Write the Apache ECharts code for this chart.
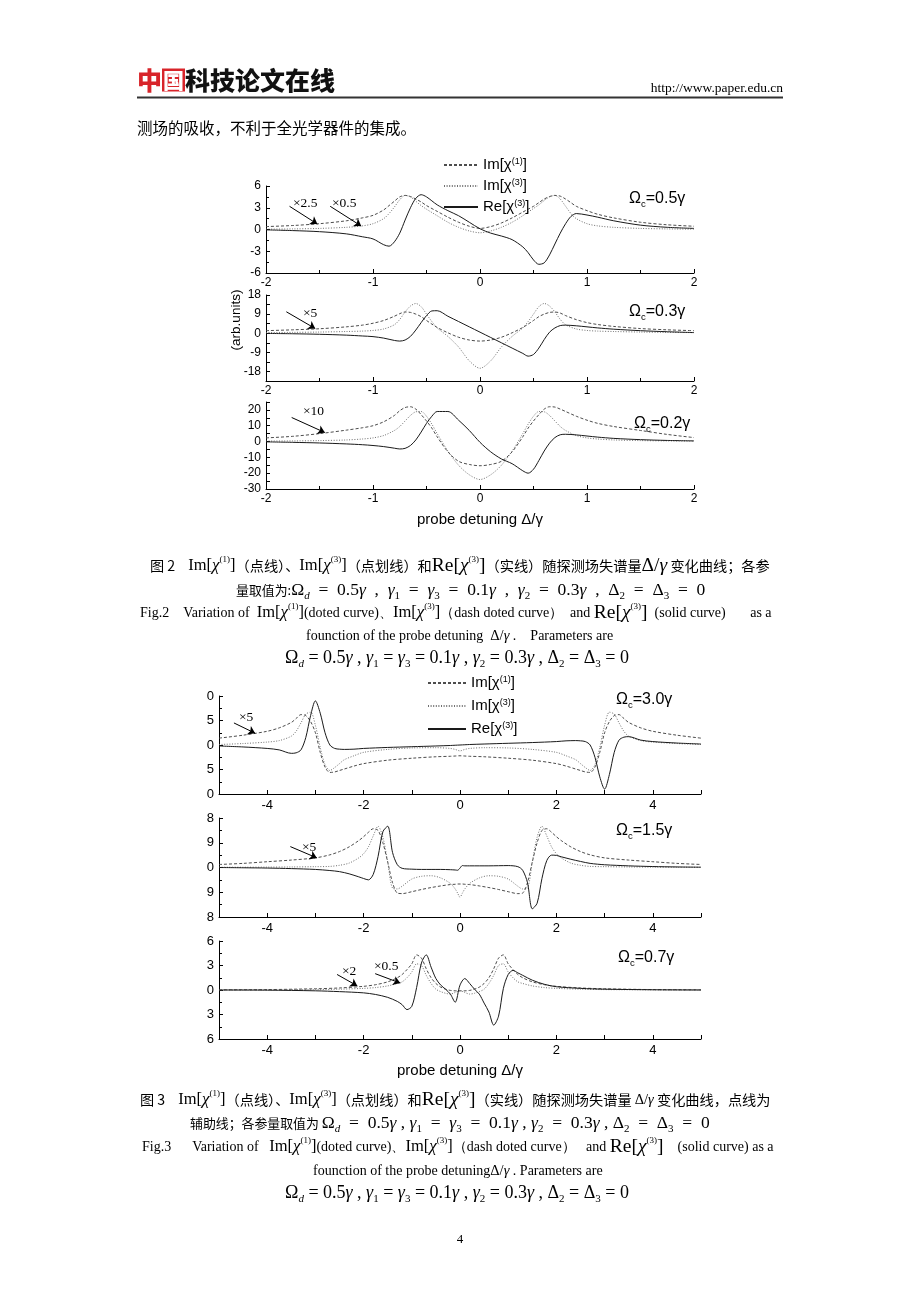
<!DOCTYPE html>
<html><head><meta charset="utf-8">
<script src="https://cdn.jsdelivr.net/npm/echarts@6/dist/echarts.min.js"></script>
<style>html,body{margin:0;padding:0;background:#fff}#c{width:920px;height:1302px}</style>
</head><body><div id="c"></div>
<script>
// ---------- Fig.2 panel 1 (Omega_c = 0.5 gamma) ----------
const F2A_X   = [-2,-1.75,-1.5,-1.25,-1.1,-1,-0.9,-0.85,-0.8,-0.75,-0.7,-0.65,-0.6,-0.55,-0.5,-0.4,-0.3,-0.2,-0.1,0,0.1,0.2,0.3,0.4,0.45,0.5,0.55,0.6,0.65,0.7,0.75,0.8,0.85,0.9,1.0,1.1,1.25,1.5,1.75,2];
const F2A_IM1 = [0.4,0.55,0.8,1.2,1.6,1.95,2.7,3.3,3.9,4.5,4.7,4.55,4.2,3.8,3.3,2.5,1.7,1.0,0.45,0.15,0.4,0.9,1.6,2.4,2.8,3.2,3.7,4.2,4.55,4.7,4.6,4.2,3.7,3.2,2.6,2.1,1.6,1.0,0.65,0.45];
const F2A_IM3 = [0.05,0.08,0.15,0.3,0.5,0.8,1.5,2.2,3.1,4.1,4.7,4.5,3.9,3.3,2.8,1.9,1.0,0.3,-0.2,-0.45,-0.2,0.3,1.0,1.9,2.4,2.9,3.4,4.0,4.5,4.7,4.2,3.2,2.2,1.5,0.8,0.5,0.3,0.15,0.08,0.05];
const F2A_RE  = [-0.05,-0.15,-0.3,-0.6,-1.0,-1.3,-2.1,-2.3,-1.7,-0.5,1.3,3.0,4.3,4.8,4.5,3.4,2.6,1.9,1.0,0.1,-0.5,-0.9,-1.4,-2.4,-3.2,-4.2,-4.8,-4.6,-3.5,-2.0,-0.5,0.8,1.8,2.2,2.0,1.7,1.2,0.6,0.3,0.15];

// ---------- Fig.2 panels 2,3 share x ----------
const F2B_X   = [-2,-1.75,-1.5,-1.25,-1.1,-1,-0.9,-0.8,-0.75,-0.7,-0.65,-0.6,-0.55,-0.5,-0.45,-0.4,-0.3,-0.2,-0.1,0,0.1,0.2,0.3,0.4,0.45,0.5,0.55,0.6,0.65,0.7,0.75,0.8,0.9,1.0,1.1,1.25,1.5,1.75,2];
const F2B_IM1 = [1.2,1.6,2.1,3.0,3.8,4.7,6.0,8.0,9.2,10,9.8,9.0,7.8,6.0,4.3,2.7,0.2,-1.9,-3.2,-3.7,-3.2,-1.9,0.2,2.7,4.3,6.0,7.8,9.0,9.8,10,9.5,8.3,6.4,5.0,4.1,3.2,2.2,1.6,1.2];
const F2B_IM3 = [0.3,0.4,0.55,0.8,1.0,1.3,2.0,4.0,6.5,10,12.8,14,12.5,9.0,5.5,2.5,-1.5,-6.5,-13,-16.5,-13,-6.5,-1.5,2.5,5.5,9.0,12.5,14,12.8,10,6.5,4.0,2.0,1.3,1.0,0.8,0.55,0.4,0.3];
const F2B_RE  = [-0.1,-0.25,-0.5,-0.9,-1.3,-1.6,-2.3,-3.4,-3.7,-3.2,-1.5,1.5,5.0,8.3,10.5,10.6,8.0,5.5,3.0,0.5,-2.0,-4.5,-7.0,-9.5,-10.8,-10.0,-7.0,-3.0,0.5,2.5,3.6,3.8,3.5,3.0,2.5,1.9,1.2,0.7,0.3];

const F2C_X   = F2B_X;
const F2C_IM1 = [2.3,3.3,5.0,7.2,8.7,10,12.5,16.5,19.5,21.5,22,20.5,17,13,8.5,3,-6.5,-12.5,-14.5,-15.3,-14.5,-12.5,-6.5,3,8.5,13,17,20.5,22,21.8,20.5,19,16,13.5,11.5,9.5,7.0,4.5,2.5];
const F2C_IM3 = [0.3,0.4,0.6,1.0,1.6,2.3,3.8,7.0,9.5,13,16.5,18.8,19,16,11,5,-6,-15,-21,-24,-21,-15,-6,5,11,16,19,18.8,16.5,13,9.5,7.0,3.8,2.3,1.6,1.0,0.6,0.4,0.3];
const F2C_RE  = [-0.2,-0.5,-0.9,-1.5,-2.0,-2.5,-3.2,-4.2,-4.7,-4.3,-2.5,1,6,11.5,16,19,19,13.5,7,-0.5,-6.5,-11,-14,-18.5,-20,-17.5,-12,-6,-1,2.5,4.3,4.6,4.2,3.5,2.8,2.0,1.2,0.7,0.4];

// ---------- Fig.3 panel 1 (Omega_c = 3.0 gamma) ----------
const F3A_X   = [-5,-4.5,-4,-3.75,-3.5,-3.4,-3.3,-3.2,-3.1,-3,-2.9,-2.8,-2.7,-2.6,-2.5,-2.4,-2.2,-2,-1.5,-1,-0.5,-0.2,-0.1,0,0.1,0.2,0.5,1,1.5,2,2.2,2.4,2.5,2.6,2.7,2.8,2.9,3,3.1,3.2,3.3,3.4,3.5,3.75,4,4.5,5];
const F3A_IM1 = [1.4,2.0,2.8,3.5,4.6,5.4,6.2,6.0,4.8,2.5,-1.5,-4.5,-5.6,-5.5,-5.2,-4.9,-4.3,-3.8,-3.1,-2.7,-2.4,-2.3,-2.25,-2.2,-2.25,-2.3,-2.4,-2.7,-3.1,-3.8,-4.3,-4.9,-5.2,-5.5,-5.6,-4.5,-1.5,2.5,4.8,6.0,6.2,5.4,4.6,3.5,2.8,2.0,1.4];
const F3A_IM3 = [0.1,0.3,0.6,0.9,1.8,2.8,4.5,6.3,6.7,4.0,-0.5,-4.0,-5.2,-4.6,-3.8,-3.0,-2.2,-1.5,-0.9,-0.6,-0.55,-0.7,-0.9,-1.2,-0.9,-0.7,-0.55,-0.6,-0.9,-1.5,-2.2,-3.0,-3.8,-4.6,-5.2,-4.0,-0.5,4.0,6.7,6.3,4.5,2.8,1.8,0.9,0.6,0.3,0.1];
const F3A_RE  = [-0.2,-0.4,-0.7,-1.0,-1.7,-1.6,-1.0,1.5,6.0,9.0,6.5,2.5,0.0,-0.7,-0.85,-0.9,-0.85,-0.7,-0.5,-0.35,-0.2,-0.1,-0.05,0,0.05,0.1,0.2,0.35,0.5,0.7,0.85,0.9,0.85,0.7,0.0,-2.5,-6.5,-9.0,-6.0,-1.5,1.0,1.6,1.7,1.0,0.7,0.4,0.2];

// ---------- Fig.3 panel 2 (Omega_c = 1.5 gamma) ----------
const F3B_X   = [-5,-4.5,-4,-3.5,-3,-2.7,-2.5,-2.3,-2.1,-2,-1.9,-1.8,-1.7,-1.6,-1.5,-1.4,-1.3,-1.2,-1.0,-0.8,-0.6,-0.4,-0.2,-0.1,-0.05,0,0.05,0.1,0.2,0.4,0.6,0.8,1.0,1.2,1.3,1.4,1.5,1.6,1.7,1.8,1.9,2,2.1,2.3,2.5,2.7,3,3.5,4,4.5,5];
const F3B_IM1 = [1.1,1.5,2.1,2.7,3.5,4.6,5.8,7.5,9.8,11.2,12.8,14.1,13.5,9.0,2.0,-5.5,-9.3,-9.5,-8.8,-8.0,-7.3,-6.7,-6.2,-6.1,-6.0,-6.0,-6.0,-6.1,-6.2,-6.7,-7.3,-8.0,-8.8,-9.5,-9.3,-5.5,2.0,9.0,13.5,14.1,12.8,11.2,9.8,7.5,5.8,4.6,3.5,2.7,2.1,1.5,1.1];
const F3B_IM3 = [0.1,0.1,0.15,0.2,0.3,0.4,0.8,1.6,3.5,5.0,7.5,11.5,15,11,2,-7.5,-7.8,-6.8,-4.2,-3.2,-3.0,-3.8,-5.8,-7.8,-9.3,-10.8,-9.3,-7.8,-5.8,-3.8,-3.0,-3.2,-4.2,-6.8,-7.8,-7.5,2,11,15,11.5,7.5,5.0,3.5,1.6,0.8,0.4,0.3,0.2,0.15,0.1,0.1];
const F3B_RE  = [0,-0.1,-0.2,-0.4,-0.7,-1.1,-1.5,-2.3,-3.4,-4.0,-4.5,-2.5,4.0,13,15,5.5,1.0,-0.3,-0.6,-0.7,-0.7,-0.7,-0.8,-0.9,-1.0,-0.2,0.7,0.6,0.6,0.6,0.6,0.65,0.7,0.3,-1.0,-5.5,-15,-13,-4.0,2.5,4.5,4.4,3.9,3.0,2.2,1.5,1.0,0.6,0.35,0.2,0.1];

// ---------- Fig.3 panel 3 (Omega_c = 0.7 gamma) ----------
const F3C_X   = [-5,-4,-3,-2.5,-2,-1.75,-1.5,-1.3,-1.2,-1.1,-1.0,-0.9,-0.8,-0.7,-0.6,-0.5,-0.4,-0.3,-0.2,-0.1,0,0.1,0.2,0.3,0.4,0.5,0.6,0.7,0.8,0.9,1.0,1.1,1.2,1.3,1.5,1.75,2,2.5,3,4,5];
const F3C_IM1 = [0.02,0.05,0.15,0.25,0.45,0.65,1.0,1.5,1.9,2.5,3.2,4.3,3.9,2.6,1.5,0.8,0.35,0.1,-0.05,-0.1,-0.1,-0.1,-0.05,0.1,0.35,0.8,1.5,2.6,3.9,4.3,3.2,2.5,1.9,1.5,1.0,0.65,0.45,0.25,0.15,0.05,0.02];
const F3C_IM3 = [0.0,0.02,0.05,0.1,0.2,0.3,0.5,0.8,1.0,1.5,2.2,3.2,3.0,1.8,0.8,0.1,-0.2,-0.4,-0.5,-0.3,-0.1,-0.3,-0.5,-0.4,-0.2,0.1,0.8,1.8,3.0,3.2,2.2,1.5,1.0,0.8,0.5,0.3,0.2,0.1,0.05,0.02,0.0];
const F3C_RE  = [0,-0.02,-0.1,-0.2,-0.35,-0.55,-0.9,-1.4,-1.8,-2.4,-2.0,0.3,3.3,4.3,2.8,1.4,0.6,0.1,-0.5,-1.5,0.6,1.4,0.8,0.1,-0.5,-1.6,-2.7,-4.3,-3.2,0.2,1.9,2.4,2.1,1.8,1.2,0.7,0.4,0.2,0.1,0.03,0];

// annotation arrows [x1,y1,x2,y2] in data units
const ARR_F2A = [[-1.78,3.2,-1.52,0.75],[-1.40,3.2,-1.11,0.48]];
const ARR_F2B = [[-1.81,10.1,-1.54,2.2]];
const ARR_F2C = [[-1.76,15.2,-1.45,5.7]];
const ARR_F3A = [[-4.69,4.5,-4.25,2.4]];
const ARR_F3B = [[-3.52,7.6,-2.97,3.5]];
const ARR_F3C = [[-2.55,1.9,-2.13,0.5],[-1.76,2.0,-1.24,0.85]];

// axis tick settings (labelStep = spacing of printed labels)
const F2A_Y = {min:-6, max:6, step:3, labelStep:3, labelMax:6};
const F2B_Y = {min:-22.5, max:18, step:4.5, labelStep:9, labelMax:18};
const F2C_Y = {min:-30, max:25, step:5, labelStep:10, labelMax:20};
const F3A_Y = {min:-10, max:10, step:5, labelStep:5, labelMax:10};
const F3B_Y = {min:-18, max:18, step:9, labelStep:9, labelMax:18};
const F3C_Y = {min:-6, max:6, step:3, labelStep:3, labelMax:6};

const SANS = 'Liberation Sans';
const SERIF = 'Liberation Serif';
const CJK = 'Noto Sans CJK SC';

const S_IM1 = {color:'#4d4d4d', width:1, type:[3,2]};
const S_IM3 = {color:'#707070', width:1, type:[1,1.6]};
const S_RE  = {color:'#1a1a1a', width:1, type:'solid'};

const grids = [
  {left:266, width:428, top:186, height:87},
  {left:266, width:428, top:295, height:86},
  {left:266, width:428, top:402, height:87},
  {left:219, width:482, top:696, height:98},
  {left:219, width:482, top:818, height:99},
  {left:219, width:482, top:941, height:98}
];

const axLine = {show:true, onZero:false, lineStyle:{color:'#000', width:1}};
const labStyle = (fs, m) => ({color:'#000', fontFamily:SANS, fontSize:fs, margin:m});

function xAx(i, fig2, nameShow){
  const a = {
    type:'value', gridIndex:i, axisLine:axLine,
    splitLine:{show:false},
    axisTick:{show:true, inside:true, length:4, lineStyle:{color:'#000'}},
  };
  if (fig2){
    Object.assign(a,{min:-2,max:2,interval:1,
      minorTick:{show:true, splitNumber:2, length:3, lineStyle:{color:'#000'}},
      axisLabel:Object.assign(labStyle(12,4),{formatter:v=>String(v)})});
  } else {
    Object.assign(a,{min:-5,max:5,interval:1,
      axisLabel:Object.assign(labStyle(13,5),{formatter:v=>(v%2===0?String(v):'')})});
  }
  if (nameShow){
    Object.assign(a,{name:'probe detuning Δ/γ', nameLocation:'middle', nameGap:fig2?23:24,
      nameTextStyle:{fontFamily:SANS, fontSize:15, color:'#000'}});
  }
  return a;
}
function yAx(i, Y, fs, trunc, minor){
  const fmt = v => {
    if (v > Y.labelMax + 1e-9) return '';
    const r = v / Y.labelStep;
    if (Math.abs(r - Math.round(r)) > 1e-6) return '';
    return trunc ? String(Math.abs(v)).slice(-1) : String(v);
  };
  return {
    type:'value', gridIndex:i, min:Y.min, max:Y.max, interval:Y.step,
    axisLine:axLine, splitLine:{show:false},
    axisTick:{show:true, inside:true, length:4, lineStyle:{color:'#000'}},
    minorTick:{show:minor, splitNumber:2, length:3, lineStyle:{color:'#000'}},
    axisLabel:Object.assign(labStyle(fs,5),{formatter:fmt})
  };
}

const xAxis = [xAx(0,true,false), xAx(1,true,false), xAx(2,true,true),
               xAx(3,false,false), xAx(4,false,false), xAx(5,false,true)];
const yAxis = [
  yAx(0,F2A_Y,12,false,true),
  yAx(1,F2B_Y,12,false,false),
  yAx(2,F2C_Y,12,false,false),
  yAx(3,F3A_Y,13,true,true),
  yAx(4,F3B_Y,13,true,true),
  yAx(5,F3C_Y,13,true,true)
];

function arrows(list){
  return {silent:true, symbol:['none','arrow'], symbolSize:7, animation:false,
    lineStyle:{color:'#000', width:1, type:'solid'}, label:{show:false},
    data:list.map(a=>[{coord:[a[0],a[1]]},{coord:[a[2],a[3]]}])};
}
function line(name, xs, ys, gi, st, mk){
  const s = {type:'line', name, xAxisIndex:gi, yAxisIndex:gi, symbol:'none', smooth:0.3,
    data:xs.map((x,k)=>[x,ys[k]]), lineStyle:st, itemStyle:{color:st.color}, z:2};
  if (mk) s.markLine = arrows(mk);
  return s;
}
const series = [
  line('Im1',F2A_X,F2A_IM1,0,S_IM1), line('Im3',F2A_X,F2A_IM3,0,S_IM3), line('Re',F2A_X,F2A_RE,0,S_RE,ARR_F2A),
  line('Im1',F2B_X,F2B_IM1,1,S_IM1), line('Im3',F2B_X,F2B_IM3,1,S_IM3), line('Re',F2B_X,F2B_RE,1,S_RE,ARR_F2B),
  line('Im1',F2C_X,F2C_IM1,2,S_IM1), line('Im3',F2C_X,F2C_IM3,2,S_IM3), line('Re',F2C_X,F2C_RE,2,S_RE,ARR_F2C),
  line('Im1',F3A_X,F3A_IM1,3,S_IM1), line('Im3',F3A_X,F3A_IM3,3,S_IM3), line('Re',F3A_X,F3A_RE,3,S_RE,ARR_F3A),
  line('Im1',F3B_X,F3B_IM1,4,S_IM1), line('Im3',F3B_X,F3B_IM3,4,S_IM3), line('Re',F3B_X,F3B_RE,4,S_RE,ARR_F3B),
  line('Im1',F3C_X,F3C_IM1,5,S_IM1), line('Im3',F3C_X,F3C_IM3,5,S_IM3), line('Re',F3C_X,F3C_RE,5,S_RE,ARR_F3C)
];

const LEG_NAMES = {Im1:'Im[χ{s|(1)}]', Im3:'Im[χ{s|(3)}]', Re:'Re[χ{s|(3)}]'};
function legend(left, top, w, gap){
  return {orient:'vertical', left, top, itemWidth:w, itemHeight:14, itemGap:gap,
    selectedMode:false, data:['Im1','Im3','Re'], formatter:n=>LEG_NAMES[n],
    itemStyle:{opacity:0, color:'rgba(0,0,0,0)', borderWidth:0},
    textStyle:{fontFamily:SANS, fontSize:15, color:'#000', lineHeight:15,
      rich:{s:{fontFamily:SANS, fontSize:9, lineHeight:9, verticalAlign:'top', color:'#000'}}}};
}

// ---------- text helpers ----------
function T(x, y, text, rich, opts){
  opts = opts || {};
  const st = Object.assign({text, x:0, y:0, rich, fill:'#000',
    align:opts.align||'left', textAlign:opts.align||'left',
    verticalAlign:'middle', textVerticalAlign:'middle'}, opts.style||{});
  return {type:'text', x, y, rotation:opts.rot||0, silent:true, style:st, z:100};
}
const tok = (ff, fs, extra) => Object.assign({fontFamily:ff, fontSize:fs, fill:'#000', color:'#000'}, extra||{});
const R_OM = {t:tok(SANS,16,{lineHeight:20}), c:tok(SANS,9.5,{lineHeight:9, verticalAlign:'bottom'})};
const R_MUL = {t:tok(SERIF,13.5)};
const R_CAP = {
  cn: tok(CJK,14.2,{lineHeight:22}),
  cs: tok(CJK,12.9,{lineHeight:22}),
  sp: tok(SERIF,13),
  en: tok(SERIF,14,{lineHeight:22}),
  tm: tok(SERIF,16.5,{lineHeight:22}),
  ti: tok(SERIF,17,{fontStyle:'italic', lineHeight:22}),
  tr: tok(SERIF,19.5,{lineHeight:22}),
  tri: tok(SERIF,19.5,{fontStyle:'italic', lineHeight:22}),
  su: tok(SERIF,9,{lineHeight:9, verticalAlign:'top'}),
  es: tok(SERIF,14.5,{lineHeight:22}),
  esi: tok(SERIF,14.5,{fontStyle:'italic', lineHeight:22}),
  m: tok(SERIF,18,{lineHeight:24}),
  mi: tok(SERIF,18,{fontStyle:'italic', lineHeight:24}),
  ms: tok(SERIF,11,{lineHeight:11, verticalAlign:'bottom'}),
  msi: tok(SERIF,11,{fontStyle:'italic', lineHeight:11, verticalAlign:'bottom'}),
  w: tok(SERIF,17.5,{lineHeight:24}),
  wi: tok(SERIF,17.5,{fontStyle:'italic', lineHeight:24}),
  ws: tok(SERIF,11,{lineHeight:11, verticalAlign:'bottom'}),
  wsi: tok(SERIF,11,{fontStyle:'italic', lineHeight:11, verticalAlign:'bottom'})
};
// math line builder: k = token prefix, e = spacing around '=', c = spacing around ','
function mathLine(k, e, c){
  const N = k, I = k === 'm' ? 'mi' : 'wi', S = k === 'm' ? 'ms' : 'ws', SI = k === 'm' ? 'msi' : 'wsi';
  const eq = e + '=' + e, cm = c + ',' + c;
  return `{${N}|Ω}{${SI}|d}{${N}|${eq}0.5}{${I}|γ}{${N}|${cm}}{${I}|γ}{${S}|1}{${N}|${eq}}{${I}|γ}{${S}|3}{${N}|${eq}0.1}{${I}|γ}{${N}|${cm}}{${I}|γ}{${S}|2}{${N}|${eq}0.3}{${I}|γ}{${N}|${cm}Δ}{${S}|2}{${N}|${eq}Δ}{${S}|3}{${N}|${eq}0}`;
}
const MATH  = mathLine('m',' ',' ');
const MATHW = mathLine('w','  ','  ');
const MATHM = mathLine('w','  ',' ');
const IM1 = '{tm|Im[}{ti|χ}{su|(1)}{tm|]}', IM3 = '{tm|Im[}{ti|χ}{su|(3)}{tm|]}', RE3 = '{tr|Re[}{tri|χ}{su|(3)}{tr|]}';

const graphic = [
  // header
  T(137, 80, '{r|中}{b|国}{k|科技论文在线}', {
    r: tok(CJK,25,{fontWeight:900, fill:'#d8242a', color:'#d8242a'}),
    b: tok(CJK,21,{fontWeight:900, fill:'#fff', color:'#fff', backgroundColor:'#d8242a', padding:[1,1,1,1]}),
    k: tok(CJK,25,{fontWeight:900, fill:'#111', color:'#111'})}),
  T(783, 88, '{u|http://www.paper.edu.cn}', {u:tok(SERIF,13.5)}, {align:'right'}),
  {type:'line', shape:{x1:137, y1:97.5, x2:783, y2:97.5}, style:{stroke:'#333', lineWidth:2}, silent:true},
  T(137, 128, '{t|测场的吸收，不利于全光学器件的集成。}', {t:tok(CJK,15.5)}),
  // Fig.2 texts
  T(236, 320, '{t|(arb.units)}', {t:tok(SANS,13.5)}, {align:'center', rot:Math.PI/2}),
  T(629, 199, '{t|Ω}{c|c}{t|=0.5γ}', R_OM),
  T(629, 312, '{t|Ω}{c|c}{t|=0.3γ}', R_OM),
  T(634, 424, '{t|Ω}{c|c}{t|=0.2γ}', R_OM),
  T(293, 203, '{t|×2.5}', R_MUL),
  T(332, 203, '{t|×0.5}', R_MUL),
  T(303, 313, '{t|×5}', R_MUL),
  T(303, 411, '{t|×10}', R_MUL),
  // Fig.3 texts
  T(616, 700, '{t|Ω}{c|c}{t|=3.0γ}', R_OM),
  T(616, 831, '{t|Ω}{c|c}{t|=1.5γ}', R_OM),
  T(618, 958, '{t|Ω}{c|c}{t|=0.7γ}', R_OM),
  T(239, 717, '{t|×5}', R_MUL),
  T(302, 847, '{t|×5}', R_MUL),
  T(342, 971, '{t|×2}', R_MUL),
  T(374, 966, '{t|×0.5}', R_MUL),
  // Fig.2 caption
  T(150, 566, '{cn|图 2}{sp|    }' + IM1 + '{cn|（点线）、}' + IM3 + '{cn|（点划线）和}' + RE3 + '{cn|（实线）随探测场失谱量}{tr|Δ/}{tri|γ}{cn| 变化曲线；各参}', R_CAP),
  T(236, 590, '{cs|量取值为:}' + MATHW, R_CAP),
  T(140, 613, '{en|Fig.2    Variation of  }' + IM1 + '{en|(doted curve)、}' + IM3 + '{en|（dash doted curve）  and }' + RE3 + '{en|  (solid curve)       as a}', R_CAP),
  T(306, 636, '{en|founction of the probe detuning  }{es|Δ/}{esi|γ}{en| .    Parameters are}', R_CAP),
  T(285, 658, MATH, R_CAP),
  // Fig.3 caption
  T(140, 1100, '{cn|图 3}{sp|    }' + IM1 + '{cn|（点线）、}' + IM3 + '{cn|（点划线）和}' + RE3 + '{cn|（实线）随探测场失谱量 }{es|Δ/}{esi|γ}{cn| 变化曲线，点线为}', R_CAP),
  T(190, 1123, '{cs|辅助线；各参量取值为 }' + MATHM, R_CAP),
  T(142, 1147, '{en|Fig.3      Variation of   }' + IM1 + '{en|(doted curve)、}' + IM3 + '{en|（dash doted curve）   and }' + RE3 + '{en|    (solid curve) as a}', R_CAP),
  T(313, 1171, '{en|founction of the probe detuning}{es|Δ/}{esi|γ}{en| . Parameters are}', R_CAP),
  T(285, 1193, MATH, R_CAP),
  T(460, 1240, '{t|4}', {t:tok(SERIF,13)}, {align:'center'})
];

const chart = echarts.init(document.getElementById('c'), null, {renderer:'canvas', width:920, height:1302});
chart.setOption({
  animation:false, backgroundColor:'#fff',
  grid:grids, xAxis, yAxis, series,
  legend:[legend(438,152.5,34,6), legend(422,670.5,38,8)],
  graphic
});
</script></body></html>
